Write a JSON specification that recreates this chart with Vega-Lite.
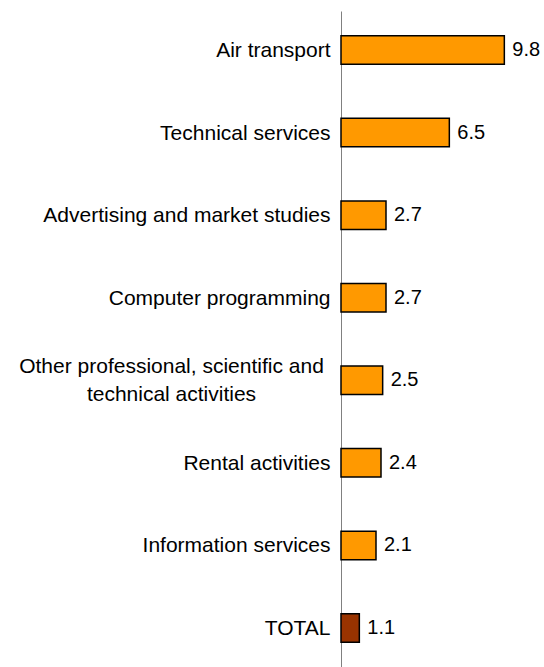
{
  "$schema": "https://vega.github.io/schema/vega-lite/v6.json",
  "width": 200,
  "height": 656,
  "autosize": {"type": "none"},
  "padding": {"left": 341, "top": 11, "right": 3, "bottom": 0},
  "background": "white",
  "view": {"stroke": null},
  "data": {"values": [
    {"sector": "Air transport", "value": 9.8, "kind": "sector"},
    {"sector": "Technical services", "value": 6.5, "kind": "sector"},
    {"sector": "Advertising and market studies", "value": 2.7, "kind": "sector"},
    {"sector": "Computer programming", "value": 2.7, "kind": "sector"},
    {"sector": "Other professional, scientific and technical activities", "value": 2.5, "kind": "sector"},
    {"sector": "Rental activities", "value": 2.4, "kind": "sector"},
    {"sector": "Information services", "value": 2.1, "kind": "sector"},
    {"sector": "TOTAL", "value": 1.1, "kind": "total"}
  ]},
  "encoding": {
    "y": {
      "field": "sector", "type": "nominal", "sort": null,
      "scale": {"paddingInner": 0.655, "paddingOuter": 0.3},
      "axis": {
        "title": null, "ticks": false,
        "domainColor": "#808080", "domainWidth": 1,
        "labelFont": "Liberation Sans", "labelFontSize": 21, "labelColor": "black",
        "labelLimit": 400, "labelOverlap": false, "labelLineHeight": 28,
        "labelPadding": {"condition": {"test": "datum.value == 'Other professional, scientific and technical activities'", "value": 170}, "value": 11},
        "labelAlign": {"condition": {"test": "datum.value == 'Other professional, scientific and technical activities'", "value": "center"}, "value": "right"},
        "labelOffset": {"condition": {"test": "datum.value == 'Other professional, scientific and technical activities'", "value": -13}, "value": 1},
        "labelExpr": "datum.value == 'Other professional, scientific and technical activities' ? ['Other professional, scientific and', 'technical activities'] : datum.label"
      }
    },
    "x": {"field": "value", "type": "quantitative", "scale": {"domain": [0, 12]}, "axis": null}
  },
  "layer": [
    {
      "mark": {"type": "bar", "stroke": "black", "strokeWidth": 1.5},
      "encoding": {
        "color": {"field": "kind", "type": "nominal", "scale": {"domain": ["sector", "total"], "range": ["#FF9900", "#993300"]}, "legend": null}
      }
    },
    {
      "mark": {"type": "text", "align": "left", "baseline": "middle", "dx": 8, "font": "Liberation Sans", "fontSize": 20, "color": "black"},
      "encoding": {"text": {"field": "value", "type": "quantitative", "format": ".1f"}}
    }
  ]
}
